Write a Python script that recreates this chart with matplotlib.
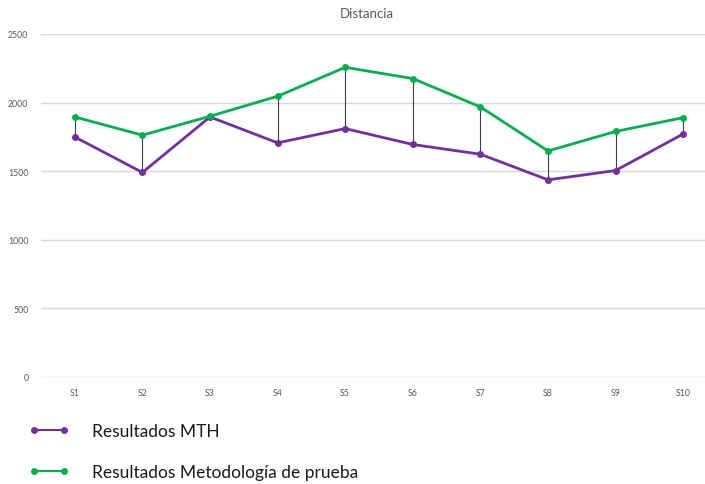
import matplotlib
matplotlib.use("Agg")
import matplotlib.pyplot as plt
from matplotlib.lines import Line2D

plt.rcParams['font.family'] = ['Lato', 'DejaVu Sans']

categories = ["S1", "S2", "S3", "S4", "S5", "S6", "S7", "S8", "S9", "S10"]
mth = [1749, 1490, 1895, 1706, 1810, 1694, 1623, 1436, 1504, 1771]
metodologia = [1895, 1762, 1900, 2046, 2257, 2175, 1968, 1647, 1789, 1890]
y_ticks = [0, 500, 1000, 1500, 2000, 2500]

purple = "#7030a0"
green = "#00b050"

fig = plt.figure(figsize=(7.05, 4.85), dpi=100)
ax = fig.add_axes([41 / 705, 1 - 377.7 / 485, 676 / 705, (377.7 - 35) / 485])

x = list(range(len(categories)))

# high-low connectors between the two series
ax.vlines(x, [min(a, b) for a, b in zip(mth, metodologia)],
          [max(a, b) for a, b in zip(mth, metodologia)],
          color="#404040", lw=0.8, zorder=2)

ax.plot(x, mth, color=purple, lw=2.0, marker="o", ms=4, zorder=3,
        label="Resultados MTH")
ax.plot(x, metodologia, color=green, lw=2.0, marker="o", ms=4, zorder=4,
        label="Resultados Metodología de prueba")

ax.set_xlim(-0.5, len(categories) - 0.5)
ax.set_ylim(0, 2500)
ax.set_yticks(y_ticks)
ax.set_xticks(x)
ax.set_xticklabels(categories)
ax.grid(axis="y", color="#d9d9d9", lw=1)
ax.set_axisbelow(True)
for s in ax.spines.values():
    s.set_visible(False)
ax.tick_params(length=0, labelsize=6.3, labelcolor="#595959", pad=8)
ax.tick_params(axis="y", pad=9)

fig.text(367 / 705, 1 - 14 / 485, "Distancia", ha="center", va="center",
         fontsize=9.5, color="#595959")

handles = [
    Line2D([0], [0], color=purple, lw=1.5, marker="o", ms=4),
    Line2D([0], [0], color=green, lw=1.5, marker="o", ms=4),
]
fig.legend(handles, ["Resultados MTH", "Resultados Metodología de prueba"],
           loc="upper left", bbox_to_anchor=(22 / 705, 1 - 417 / 485),
           frameon=False, fontsize=12.5, numpoints=2, handlelength=2.3,
           handletextpad=1.35, labelspacing=1.45, labelcolor="#1a1a1a",
           borderaxespad=0)

fig.savefig("out.png", dpi=100)
